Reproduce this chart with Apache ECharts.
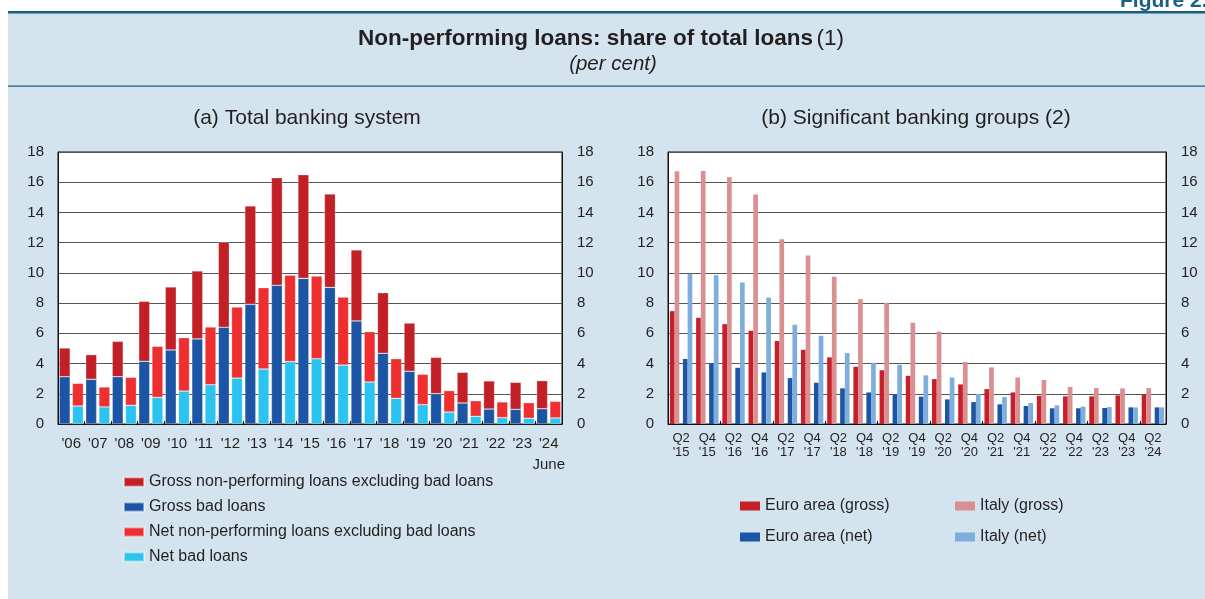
<!DOCTYPE html>
<html>
<head>
<meta charset="utf-8">
<script src="https://cdn.jsdelivr.net/npm/echarts@6/dist/echarts.min.js"></script>
<style>
html,body{margin:0;padding:0;background:#ffffff;}
#chart{width:1205px;height:599px;}
</style>
</head>
<body>
<div id="chart"></div>
<script>
// ---------- DATA ----------
// (a) Total banking system, years (June 2024 for last)
const yearLabels = ["'06","'07","'08","'09","'10","'11","'12","'13","'14","'15","'16","'17","'18","'19","'20","'21","'22","'23","'24\nJune"];
const grossBad     = [3.13,2.96,3.13,4.15,4.90,5.63,6.40,7.92,9.18,9.64,9.04,6.82,4.68,3.49,2.01,1.39,0.99,0.97,1.01];
const grossExBad   = [1.90,1.63,2.34,3.97,4.17,4.50,5.64,6.51,7.12,6.86,6.18,4.70,4.01,3.19,2.40,2.03,1.86,1.79,1.86];
const netBad       = [1.19,1.13,1.24,1.76,2.18,2.60,3.04,3.64,4.13,4.32,3.90,2.78,1.70,1.28,0.79,0.51,0.42,0.38,0.40];
const netExBad     = [1.50,1.32,1.85,3.38,3.53,3.82,4.70,5.38,5.71,5.47,4.50,3.33,2.62,2.01,1.42,1.03,1.04,1.03,1.10];

// (b) Significant banking groups, half-years
const periodLabels = ["Q2\n'15","Q4\n'15","Q2\n'16","Q4\n'16","Q2\n'17","Q4\n'17","Q2\n'18","Q4\n'18","Q2\n'19","Q4\n'19","Q2\n'20","Q4\n'20","Q2\n'21","Q4\n'21","Q2\n'22","Q4\n'22","Q2\n'23","Q4\n'23","Q2\n'24"];
const euroGross  = [7.47,7.03,6.61,6.17,5.49,4.91,4.41,3.79,3.56,3.19,2.97,2.62,2.31,2.09,1.87,1.83,1.83,1.89,1.92];
const italyGross = [16.72,16.74,16.33,15.18,12.23,11.15,9.74,8.26,8.02,6.70,6.12,4.10,3.75,3.08,2.91,2.45,2.38,2.36,2.38];
const euroNet    = [4.30,4.01,3.72,3.41,3.04,2.73,2.36,2.09,1.96,1.81,1.63,1.45,1.30,1.19,1.04,1.04,1.06,1.10,1.10];
const italyNet   = [9.94,9.85,9.36,8.37,6.57,5.84,4.69,4.05,3.92,3.22,3.08,1.98,1.78,1.39,1.23,1.15,1.12,1.10,1.10];

// y-axis ticks
const yMin = 0, yMax = 18, yStep = 2;

// ---------- STYLE ----------
const FONT = "'Liberation Sans', Arial, sans-serif";
const TXT = '#231f20';
const C = {
  grossExBad: '#c21f26',
  grossBad: '#1d55a5',
  netExBad: '#ee2e2f',
  netBad: '#2bc4f0',
  euroGross: '#c8202a',
  italyGross: '#d99093',
  euroNet: '#1d55a5',
  italyNet: '#7eaedd'
};
const PANEL = '#d3e4ee';
const TEAL = '#1a5f82';

const chart = echarts.init(document.getElementById('chart'), null, {renderer: 'canvas'});

function yAxisDef(gridIndex, pos, split) {
  return {
    type: 'value', gridIndex: gridIndex, position: pos,
    min: yMin, max: yMax, interval: yStep,
    axisLine: {show: true, lineStyle: {color: '#111', width: 1}},
    axisTick: {show: false},
    splitLine: {show: split, lineStyle: {color: '#555', width: 1}},
    axisLabel: {color: TXT, fontSize: 15, fontFamily: FONT, margin: pos === 'left' ? 14 : 15}
  };
}

const barBorder = {borderColor: 'rgba(255,255,255,0.45)', borderWidth: 0.6};
const legendText = {color: TXT, fontSize: 16, fontFamily: FONT, lineHeight: 18};

const option = {
  backgroundColor: '#ffffff',
  animation: false,
  textStyle: {fontFamily: FONT},
  graphic: [
    {type: 'rect', z: -10, shape: {x: 8, y: 12, width: 1197, height: 587}, style: {fill: PANEL}},
    {type: 'text', x: 1120, y: 12, style: {text: 'Figure 2.7', fill: TEAL, verticalAlign: 'bottom', font: "bold 21px " + FONT}},
    {type: 'rect', shape: {x: 8, y: 11, width: 1197, height: 2.5}, style: {fill: TEAL}},
    {type: 'rect', shape: {x: 8, y: 85.5, width: 1197, height: 1.2}, style: {fill: TEAL}},
    {type: 'text', x: 601, y: 39, style: {
      text: '{b|Non-performing loans: share of total loans} {r|(1)}',
      align: 'center', verticalAlign: 'middle',
      rich: {
        b: {fontFamily: FONT, fontSize: 22.5, fontWeight: 'bold', fill: TXT},
        r: {fontFamily: FONT, fontSize: 22.5, fill: TXT}
      }
    }},
    {type: 'text', x: 613, y: 64.5, style: {text: '(per cent)', align: 'center', verticalAlign: 'middle', fill: TXT, font: "italic 20.5px " + FONT}},
    {type: 'text', x: 307, y: 118, style: {text: '(a) Total banking system', align: 'center', verticalAlign: 'middle', fill: TXT, font: "21px " + FONT}},
    {type: 'text', x: 916, y: 118, style: {text: '(b) Significant banking groups (2)', align: 'center', verticalAlign: 'middle', fill: TXT, font: "21px " + FONT}}
  ],
  grid: [
    {left: 58, top: 152, width: 504, height: 272, show: true, backgroundColor: '#ffffff', borderColor: '#111', borderWidth: 1},
    {left: 668, top: 152, width: 498, height: 272, show: true, backgroundColor: '#ffffff', borderColor: '#111', borderWidth: 1}
  ],
  xAxis: [
    {type: 'category', gridIndex: 0, data: yearLabels,
     axisLine: {show: true, lineStyle: {color: '#111', width: 1}},
     axisTick: {show: true, inside: true, length: 3, lineStyle: {color: '#111'}},
     axisLabel: {color: TXT, fontSize: 15, fontFamily: FONT, margin: 9, interval: 0, lineHeight: 21}},
    {type: 'category', gridIndex: 1, data: periodLabels,
     axisLine: {show: true, lineStyle: {color: '#111', width: 1}},
     axisTick: {show: true, inside: true, length: 3, interval: 1, lineStyle: {color: '#111'}},
     axisLabel: {color: TXT, fontSize: 13, fontFamily: FONT, margin: 7, interval: 0, lineHeight: 14}}
  ],
  yAxis: [
    yAxisDef(0, 'left', true),
    yAxisDef(0, 'right', false),
    yAxisDef(1, 'left', true),
    yAxisDef(1, 'right', false)
  ],
  legend: [
    {orient: 'vertical', left: 123, top: 473, padding: 0, itemWidth: 20, itemHeight: 9, itemGap: 7, icon: 'rect',
     data: ['Gross non-performing loans excluding bad loans', 'Gross bad loans', 'Net non-performing loans excluding bad loans', 'Net bad loans'],
     textStyle: legendText},
    {orient: 'vertical', left: 740, top: 497, padding: 0, itemWidth: 20, itemHeight: 9, itemGap: 13, icon: 'rect',
     data: ['Euro area (gross)', 'Euro area (net)'],
     textStyle: legendText},
    {orient: 'vertical', left: 955, top: 497, padding: 0, itemWidth: 20, itemHeight: 9, itemGap: 13, icon: 'rect',
     data: ['Italy (gross)', 'Italy (net)'],
     textStyle: legendText}
  ],
  series: [
    {name: 'Gross bad loans', type: 'bar', xAxisIndex: 0, yAxisIndex: 0, stack: 'gross', barWidth: 11, barGap: '20%',
     data: grossBad, itemStyle: Object.assign({color: C.grossBad}, barBorder)},
    {name: 'Gross non-performing loans excluding bad loans', type: 'bar', xAxisIndex: 0, yAxisIndex: 0, stack: 'gross', barWidth: 11, barGap: '20%',
     data: grossExBad, itemStyle: Object.assign({color: C.grossExBad}, barBorder)},
    {name: 'Net bad loans', type: 'bar', xAxisIndex: 0, yAxisIndex: 0, stack: 'net', barWidth: 11, barGap: '20%',
     data: netBad, itemStyle: Object.assign({color: C.netBad}, barBorder)},
    {name: 'Net non-performing loans excluding bad loans', type: 'bar', xAxisIndex: 0, yAxisIndex: 0, stack: 'net', barWidth: 11, barGap: '20%',
     data: netExBad, itemStyle: Object.assign({color: C.netExBad}, barBorder)},

    {name: 'Euro area (gross)', type: 'bar', xAxisIndex: 1, yAxisIndex: 2, barWidth: 4.7, barGap: '0%',
     data: euroGross, itemStyle: {color: C.euroGross}},
    {name: 'Italy (gross)', type: 'bar', xAxisIndex: 1, yAxisIndex: 2, barWidth: 4.7, barGap: '0%',
     data: italyGross, itemStyle: {color: C.italyGross}},
    {name: 'spacer', type: 'bar', xAxisIndex: 1, yAxisIndex: 2, barWidth: 3.6, barGap: '0%',
     data: [], silent: true},
    {name: 'Euro area (net)', type: 'bar', xAxisIndex: 1, yAxisIndex: 2, barWidth: 4.7, barGap: '0%',
     data: euroNet, itemStyle: {color: C.euroNet}},
    {name: 'Italy (net)', type: 'bar', xAxisIndex: 1, yAxisIndex: 2, barWidth: 4.7, barGap: '0%',
     data: italyNet, itemStyle: {color: C.italyNet}}
  ]
};
chart.setOption(option);
</script>
</body>
</html>
